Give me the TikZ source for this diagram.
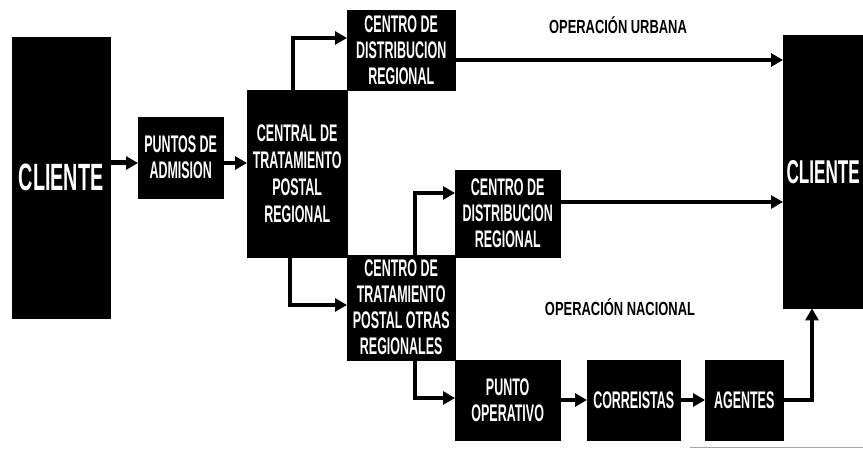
\documentclass[tikz,border=0pt]{standalone}
\usepackage{fontspec}
\setmainfont{Liberation Sans}[FakeStretch=0.52]
\newfontfamily\lblfont{Liberation Sans}[FakeStretch=0.68]
\usetikzlibrary{arrows.meta}
\begin{document}
\begin{tikzpicture}[x=1pt,y=-1pt,
  box/.style={fill=black,draw=black,text=white,align=center,inner sep=0pt,anchor=north west,
    font=\bfseries\fontsize{24}{26}\selectfont},
  big/.style={font=\bfseries\fontsize{38}{40}\selectfont},
  arr/.style={line width=4pt,-{Triangle[length=12pt,width=13pt]}},
  lbl/.style={font=\lblfont\bfseries\fontsize{19}{22}\selectfont,text=black}]
\clip (0,0) rectangle (863,462);
\fill[white] (0,0) rectangle (863,462);
% boxes
\node[box,big,minimum width=98pt,minimum height=281pt] (cl1) at (12,37) {CLIENTE};
\node[box,minimum width=85pt,minimum height=81pt] (pa) at (138,117) {PUNTOS DE\\ADMISION};
\node[box,minimum width=100pt,minimum height=167pt,font=\bfseries\fontsize{24}{27}\selectfont] (ctr) at (247,90) {CENTRAL DE\\TRATAMIENTO\\POSTAL\\REGIONAL};
\node[box,minimum width=108pt,minimum height=80pt] (cd1) at (347,10) {CENTRO DE\\DISTRIBUCION\\REGIONAL};
\node[box,minimum width=108pt,minimum height=105pt] (cto) at (347,255) {CENTRO DE\\TRATAMIENTO\\POSTAL OTRAS\\REGIONALES};
\node[box,minimum width=105pt,minimum height=87pt] (cd2) at (455,170) {CENTRO DE\\DISTRIBUCION\\REGIONAL};
\node[box,minimum width=105pt,minimum height=80pt] (po) at (455,360) {PUNTO\\OPERATIVO};
\node[box,minimum width=93pt,minimum height=80pt] (co) at (587,360) {CORREISTAS};
\node[box,minimum width=78pt,minimum height=80pt] (ag) at (705,360) {AGENTES};
\node[box,minimum width=80pt,minimum height=273pt,font=\bfseries\fontsize{33}{36}\selectfont] (cl2) at (783,35) {CLIENTE};
% labels
\node[lbl] (ou) at (618,25) {OPERACIÓN URBANA};
\node[lbl] (on) at (620,307) {OPERACIÓN NACIONAL};
% bend coordinates
\coordinate (b1) at (293,38);
\coordinate (e1) at (347,38);
\coordinate (b2) at (290,305);
\coordinate (b3) at (415,193);
\coordinate (b4) at (415,398);
\coordinate (b5) at (812,400);
% connectors
\draw[arr,line width=5pt] (cl1.east |- 0,163) -- (pa.west |- 0,163);
\draw[arr] (pa.east |- 0,163) -- (ctr.west |- 0,163);
\draw[arr] (ctr.north -| b1) -- (b1) -- (e1);
\draw[arr] (cd1.east |- 0,60) -- (cl2.west |- 0,60);
\draw[arr] (ctr.south -| b2) -- (b2) -- (cto.west |- b2);
\draw[arr] (cto.north -| b3) -- (b3) -- (cd2.west |- b3);
\draw[arr] (cd2.east |- 0,202) -- (cl2.west |- 0,202);
\draw[arr] (cto.south -| b4) -- (b4) -- (po.west |- b4);
\draw[arr] (po.east |- 0,400) -- (co.west |- 0,400);
\draw[arr] (co.east |- 0,400) -- (ag.west |- 0,400);
\draw[arr] (ag.east |- b5) -- (b5) -- (cl2.south -| b5);
% scan line at bottom
\draw[gray!70,line width=1pt] (690,448) -- (863,448);
\end{tikzpicture}
\end{document}
